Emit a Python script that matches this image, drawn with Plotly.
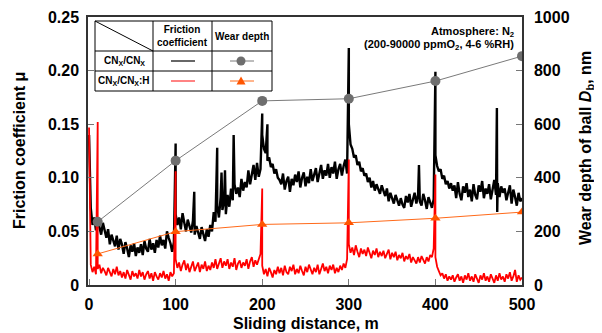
import plotly.graph_objects as go

# ---------------- data ----------------
# friction coefficient, sampled every 2 m from 0 to 500 m
dist_grid = list(range(0, 501, 2))

mu_cnx = [
    0.140, 0.072, 0.056, 0.063, 0.051, 0.061, 0.054, 0.047, 0.058, 0.050,
    0.044, 0.052, 0.038, 0.047, 0.041, 0.036, 0.046, 0.033, 0.043, 0.038,
    0.029, 0.040, 0.034, 0.026, 0.037, 0.031, 0.039, 0.027, 0.035, 0.030,
    0.038, 0.028, 0.041, 0.034, 0.031, 0.043, 0.033, 0.039, 0.030, 0.042,
    0.035, 0.046, 0.037, 0.042, 0.034, 0.050, 0.044, 0.039, 0.031, 0.040,
    0.066, 0.056, 0.063, 0.052, 0.067, 0.058, 0.050, 0.061, 0.054, 0.049,
    0.060, 0.047, 0.055, 0.049, 0.043, 0.054, 0.046, 0.041, 0.052, 0.045,
    0.056, 0.050, 0.068, 0.059, 0.074, 0.063, 0.082, 0.070, 0.078, 0.066,
    0.084, 0.073, 0.090, 0.079, 0.094, 0.085, 0.091, 0.082, 0.099, 0.088,
    0.096, 0.091, 0.107, 0.094, 0.103, 0.112, 0.098, 0.114, 0.101, 0.108,
    0.140, 0.127, 0.123, 0.116, 0.119, 0.110, 0.113, 0.104, 0.108, 0.100,
    0.098, 0.094, 0.104, 0.089, 0.097, 0.101, 0.087, 0.099, 0.093, 0.103,
    0.096, 0.106, 0.091, 0.100, 0.105, 0.092, 0.101, 0.095, 0.108, 0.097,
    0.103, 0.109, 0.096, 0.105, 0.112, 0.099, 0.107, 0.102, 0.113, 0.100,
    0.110, 0.104, 0.115, 0.099, 0.108, 0.113, 0.102, 0.111, 0.117, 0.104,
    0.150, 0.131, 0.127, 0.119, 0.121, 0.112, 0.115, 0.106, 0.109, 0.102,
    0.104, 0.096, 0.100, 0.091, 0.097, 0.088, 0.094, 0.090, 0.085, 0.093,
    0.087, 0.083, 0.090, 0.078, 0.086, 0.081, 0.076, 0.084, 0.079, 0.074,
    0.081, 0.075, 0.072, 0.083, 0.077, 0.085, 0.073, 0.080, 0.086, 0.076,
    0.084, 0.078, 0.074, 0.085, 0.079, 0.071, 0.082, 0.076, 0.072, 0.080,
    0.121, 0.111, 0.106, 0.108, 0.099, 0.102, 0.094, 0.097, 0.090, 0.095,
    0.088, 0.093, 0.081, 0.096, 0.085, 0.079, 0.092, 0.086, 0.095, 0.082,
    0.089, 0.078, 0.094, 0.084, 0.080, 0.093, 0.087, 0.097, 0.081, 0.090,
    0.085, 0.094, 0.080, 0.091, 0.098, 0.084, 0.095, 0.082, 0.092, 0.086,
    0.090, 0.079, 0.087, 0.093, 0.076, 0.089, 0.082, 0.074, 0.086, 0.078,
    0.081,
]

mu_cnxh = [
    0.147, 0.019, 0.012, 0.017, 0.010, 0.015, 0.019, 0.011, 0.016, 0.013,
    0.009, 0.016, 0.012, 0.008, 0.015, 0.010, 0.017, 0.009, 0.013, 0.007,
    0.012, 0.006, 0.014, 0.009, 0.005, 0.013, 0.008, 0.011, 0.006, 0.014,
    0.008, 0.012, 0.005, 0.010, 0.013, 0.006, 0.011, 0.004, 0.012, 0.008,
    0.005, 0.011, 0.007, 0.013, 0.006, 0.010, 0.004, 0.012, 0.008, 0.011,
    0.024, 0.016, 0.021, 0.013, 0.019, 0.023, 0.014, 0.020, 0.012, 0.018,
    0.022, 0.013, 0.017, 0.021, 0.012, 0.019, 0.015, 0.022, 0.013, 0.018,
    0.014, 0.021, 0.016, 0.024, 0.015, 0.020, 0.025, 0.016, 0.022, 0.018,
    0.024, 0.015, 0.021, 0.017, 0.025, 0.014, 0.020, 0.023, 0.016, 0.021,
    0.018, 0.024, 0.015, 0.022, 0.026, 0.017, 0.023, 0.019, 0.025, 0.029,
    0.018, 0.010, 0.015, 0.008, 0.016, 0.012, 0.007, 0.014, 0.010, 0.017,
    0.011, 0.016, 0.009, 0.018, 0.012, 0.010, 0.017, 0.013, 0.019, 0.010,
    0.015, 0.011, 0.018, 0.013, 0.009, 0.017, 0.012, 0.019, 0.014, 0.010,
    0.016, 0.012, 0.019, 0.010, 0.015, 0.020, 0.013, 0.017, 0.011, 0.018,
    0.014, 0.019, 0.011, 0.016, 0.012, 0.018, 0.014, 0.020, 0.016, 0.024,
    0.038, 0.030, 0.035, 0.028, 0.037, 0.031, 0.026, 0.034, 0.029, 0.033,
    0.027, 0.035, 0.030, 0.025, 0.032, 0.028, 0.034, 0.026, 0.031, 0.027,
    0.032, 0.025, 0.029, 0.033, 0.024, 0.030, 0.026, 0.031, 0.023, 0.028,
    0.025, 0.030, 0.022, 0.027, 0.024, 0.029, 0.021, 0.026, 0.023, 0.020,
    0.026, 0.021, 0.027, 0.023, 0.020, 0.026, 0.022, 0.028, 0.026, 0.034,
    0.026, 0.017, 0.013, 0.009, 0.011, 0.006, 0.010, 0.004, 0.008, 0.005,
    0.009, 0.003, 0.007, 0.010, 0.004, 0.008, 0.002, 0.009, 0.005, 0.011,
    0.004, 0.008, 0.003, 0.010, 0.006, 0.002, 0.009, 0.005, 0.011, 0.004,
    0.008, 0.003, 0.010, 0.006, 0.002, 0.009, 0.004, 0.011, 0.005, 0.008,
    0.003, 0.010, 0.006, 0.012, 0.004, 0.008, 0.014, 0.003, 0.009, 0.005,
    0.007,
]

# sharp spikes in the friction traces (distance m, mu)
spike_x_cnx = [100, 121.5, 148, 153, 157, 167, 200, 206, 300, 381, 400, 471, 471.4]
spike_mu_cnx = [0.132, 0.087, 0.128, 0.105, 0.107, 0.140, 0.160, 0.150, 0.221, 0.112, 0.199, 0.165, 0.068]
spike_x_cnxh = [10, 100, 200, 300, 400]
spike_mu_cnxh = [0.152, 0.106, 0.090, 0.117, 0.103]

# wear depth of ball (nm)
wear_dist = [10, 100, 200, 300, 400, 500]
wear_cnx = [236, 464, 687, 695, 761, 854]
wear_cnxh = [116, 199, 226, 232, 249, 272]

x_ticks = [0, 100, 200, 300, 400, 500]
y_ticks = [0, 0.05, 0.10, 0.15, 0.20, 0.25]
y_ticktext = ["0", "0.05", "0.10", "0.15", "0.20", "0.25"]
y2_ticks = [0, 200, 400, 600, 800, 1000]


def merge(grid_x, grid_y, sx, sy):
    pts = [(x, 1, y) for x, y in zip(grid_x, grid_y)] + [(x, 0, y) for x, y in zip(sx, sy)]
    pts.sort(key=lambda p: (p[0], p[1]))
    return [p[0] for p in pts], [p[2] for p in pts]


bx, by = merge(dist_grid, mu_cnx, spike_x_cnx, spike_mu_cnx)
rx, ry = merge(dist_grid, mu_cnxh, spike_x_cnxh, spike_mu_cnxh)

# ---------------- figure ----------------
FONT = "Liberation Sans, Arial, Helvetica, sans-serif"
OFF = 8                       # page body margin
W, H = 594, 325
L, R, T, B = 80, 80, 9, 48
PW, PH = W - L - R, H - T - B


def pxp(x):   # page pixel -> paper fraction
    return (x - OFF - L) / PW


def pyp(y):
    return (H - B - (y - OFF)) / PH


GRAY = "#7a7a7a"
GRAY_M = "#6e6e6e"
ORANGE = "#ff6a1a"
ORANGE_M = "#ff5500"

fig = go.Figure()
fig.add_trace(go.Scatter(x=bx, y=by, mode="lines", line=dict(color="black", width=2.4),
                         showlegend=False, hoverinfo="skip"))
fig.add_trace(go.Scatter(x=rx, y=ry, mode="lines", line=dict(color="#ff0000", width=1.8),
                         showlegend=False, hoverinfo="skip"))
fig.add_trace(go.Scatter(x=wear_dist, y=wear_cnx, mode="lines+markers", yaxis="y2",
                         line=dict(color=GRAY, width=1),
                         marker=dict(symbol="circle", size=10, color=GRAY_M),
                         showlegend=False))
fig.add_trace(go.Scatter(x=wear_dist, y=wear_cnxh, mode="lines+markers", yaxis="y2",
                         line=dict(color=ORANGE, width=1),
                         marker=dict(symbol="triangle-up", size=9, color=ORANGE_M),
                         showlegend=False))

tickfont = dict(family=FONT, size=16, color="black", weight="bold")
axis_common = dict(showgrid=False, zeroline=False, showline=True, linecolor="#333333",
                   linewidth=1.5, ticks="inside", ticklen=6, tickcolor="#777777",
                   tickwidth=1, tickfont=tickfont)

fig.update_layout(
    width=W, height=H,
    margin=dict(l=L, r=R, t=T, b=B, autoexpand=False),
    paper_bgcolor="white", plot_bgcolor="white",
    xaxis=dict(range=[-1.2, 500], tickvals=x_ticks, mirror=True, ticklabelstandoff=4, **axis_common),
    yaxis=dict(range=[0, 0.25], tickvals=y_ticks, ticktext=y_ticktext, ticklabelstandoff=4, **axis_common),
    yaxis2=dict(range=[0, 1000], tickvals=y2_ticks, overlaying="y", side="right",
                ticklabelstandoff=7, **axis_common),
    showlegend=False,
)

ann = []
bold = dict(family=FONT, color="black", weight="bold")
ann.append(dict(text="Sliding distance, m", x=pxp(305.5), y=pyp(323), xref="paper", yref="paper",
                showarrow=False, font=dict(size=16, **bold), xanchor="center", yanchor="middle"))
ann.append(dict(text="Friction coefficient μ", x=pxp(19), y=pyp(151), xref="paper", yref="paper",
                showarrow=False, textangle=-90, font=dict(size=16, **bold),
                xanchor="center", yanchor="middle"))
ann.append(dict(text="Wear depth of ball <i>D</i><sub>b</sub>, nm", x=pxp(586), y=pyp(148),
                xref="paper", yref="paper", showarrow=False, textangle=-90,
                font=dict(size=16, **bold), xanchor="center", yanchor="middle"))
ann.append(dict(text="Atmosphere: N<sub>2</sub>", x=pxp(516), y=pyp(32), xref="paper", yref="paper",
                showarrow=False, font=dict(size=11, **bold), xanchor="right", yanchor="middle"))
ann.append(dict(text="(200-90000 ppmO<sub>2</sub>, 4-6 %RH)", x=pxp(516), y=pyp(45), xref="paper",
                yref="paper", showarrow=False, font=dict(size=11, **bold), xanchor="right",
                yanchor="middle"))

# legend table (page pixel positions)
tx0, tx1, tx2, tx3 = 95, 153, 212, 272
ty0, ty1, ty2, ty3 = 21, 51, 71, 91
shapes = []


def rect(x0, y0, x1, y1, **kw):
    return dict(type="rect", xref="paper", yref="paper", x0=pxp(x0), x1=pxp(x1),
                y0=pyp(y1), y1=pyp(y0), **kw)


def line(x0, y0, x1, y1, color="black", width=1):
    return dict(type="line", xref="paper", yref="paper", x0=pxp(x0), x1=pxp(x1),
                y0=pyp(y0), y1=pyp(y1), line=dict(color=color, width=width))


shapes.append(rect(tx0, ty0, tx3, ty3, fillcolor="white", line=dict(color="black", width=1)))
shapes.append(line(tx1, ty0, tx1, ty3))
shapes.append(line(tx2, ty0, tx2, ty3))
shapes.append(line(tx0, ty1, tx3, ty1))
shapes.append(line(tx0, ty2, tx3, ty2))
shapes.append(line(tx0, ty0, tx1, ty1))
# symbols
shapes.append(line(171, 61, 195, 61, color="black", width=1.2))
shapes.append(line(171, 81, 195, 81, color="#ff3030", width=1.2))
shapes.append(line(230, 61, 254, 61, color=GRAY, width=1))
shapes.append(dict(type="circle", xref="paper", yref="paper", x0=pxp(236.5), x1=pxp(245.5),
                   y0=pyp(65.5), y1=pyp(56.5), fillcolor=GRAY_M, line=dict(width=0)))
shapes.append(line(230, 81, 254, 81, color=ORANGE, width=1))
shapes.append(dict(type="path", xref="paper", yref="paper",
                   path="M {} {} L {} {} L {} {} Z".format(pxp(236.5), pyp(84.5), pxp(245.5), pyp(84.5),
                                                          pxp(241), pyp(76.5)),
                   fillcolor=ORANGE_M, line=dict(width=0)))

ann.append(dict(text="Friction<br>coefficient", x=pxp((tx1 + tx2) / 2), y=pyp((ty0 + ty1) / 2),
                xref="paper", yref="paper", showarrow=False, font=dict(size=10, **bold),
                xanchor="center", yanchor="middle"))
ann.append(dict(text="Wear depth", x=pxp((tx2 + tx3) / 2), y=pyp((ty0 + ty1) / 2),
                xref="paper", yref="paper", showarrow=False, font=dict(size=10, **bold),
                xanchor="center", yanchor="middle"))
ann.append(dict(text="CN<sub>X</sub>/CN<sub>X</sub>", x=pxp((tx0 + tx1) / 2), y=pyp((ty1 + ty2) / 2),
                xref="paper", yref="paper", showarrow=False, font=dict(size=10, **bold),
                xanchor="center", yanchor="middle"))
ann.append(dict(text="CN<sub>X</sub>/CN<sub>X</sub>:H", x=pxp((tx0 + tx1) / 2), y=pyp((ty2 + ty3) / 2),
                xref="paper", yref="paper", showarrow=False, font=dict(size=10, **bold),
                xanchor="center", yanchor="middle"))

fig.update_layout(annotations=ann, shapes=shapes)
fig.write_html("out.html")
